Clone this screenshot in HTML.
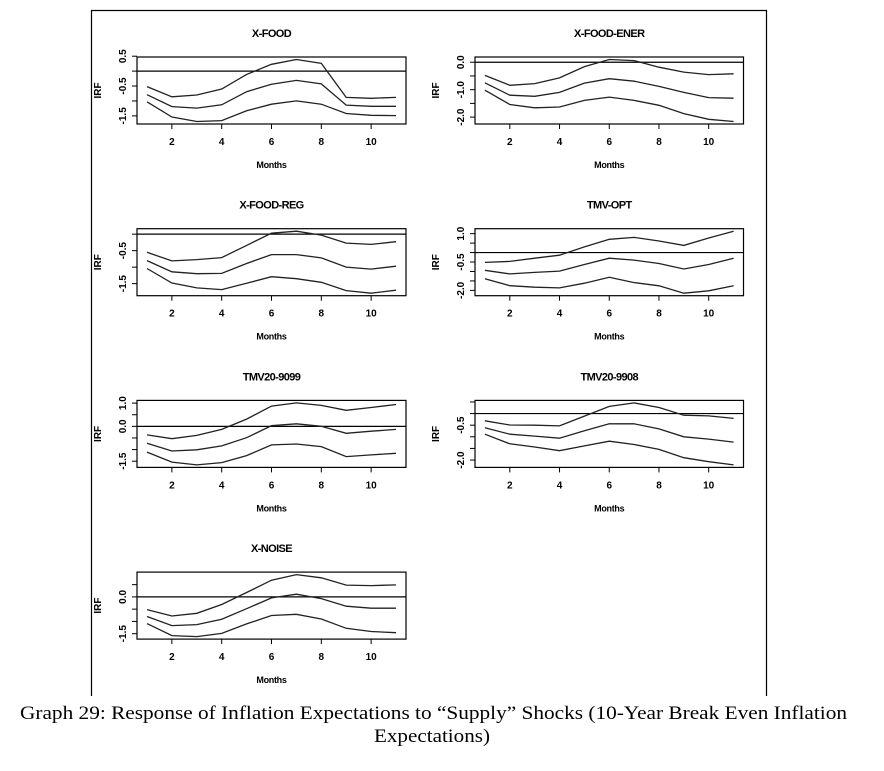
<!DOCTYPE html>
<html><head><meta charset="utf-8"><style>
html,body{margin:0;padding:0;background:#fff;}
svg{display:block;}
.t{font-family:"Liberation Sans",Arial,sans-serif;font-weight:bold;fill:#000;}
.c{font-family:"Liberation Serif",serif;fill:#000;}
</style></head><body>
<svg id="fig" width="884" height="771" viewBox="0 0 884 771" xmlns="http://www.w3.org/2000/svg">
<path d="M91.5 696 V10.5 H766.5 V696" fill="none" stroke="#000" stroke-width="1.2"/>
<text class="c" x="20" y="719" font-size="19" textLength="827" lengthAdjust="spacingAndGlyphs">Graph 29: Response of Inflation Expectations to “Supply” Shocks (10-Year Break Even Inflation</text>
<text class="c" x="374" y="742" font-size="19" textLength="116" lengthAdjust="spacingAndGlyphs">Expectations)</text>
</svg>
<script>
const months = [1,2,3,4,5,6,7,8,9,10,11];
const xTicks = [2,4,6,8,10];
const titles = ["X-FOOD","X-FOOD-ENER","X-FOOD-REG","TMV-OPT","TMV20-9099","TMV20-9908","X-NOISE"];
const upperFood = [-0.52,-0.86,-0.8,-0.6,-0.11,0.23,0.39,0.26,-0.88,-0.91,-0.88];
const midFood = [-0.79,-1.19,-1.24,-1.13,-0.69,-0.44,-0.31,-0.43,-1.14,-1.18,-1.18];
const lowerFood = [-1.03,-1.54,-1.69,-1.66,-1.33,-1.11,-1.0,-1.11,-1.42,-1.48,-1.49];
const upperEner = [-0.48,-0.84,-0.78,-0.57,-0.16,0.1,0.06,-0.18,-0.36,-0.45,-0.42];
const midEner = [-0.75,-1.2,-1.24,-1.1,-0.76,-0.6,-0.69,-0.88,-1.1,-1.29,-1.31];
const lowerEner = [-1.02,-1.54,-1.66,-1.63,-1.39,-1.27,-1.39,-1.57,-1.87,-2.08,-2.16];
const upperReg = [-0.55,-0.81,-0.77,-0.71,-0.34,0.03,0.09,-0.03,-0.27,-0.31,-0.23];
const midReg = [-0.8,-1.14,-1.2,-1.19,-0.89,-0.62,-0.62,-0.72,-1.0,-1.06,-0.97];
const lowerReg = [-1.04,-1.48,-1.63,-1.68,-1.49,-1.29,-1.35,-1.46,-1.71,-1.79,-1.7];
const upperOpt = [-0.52,-0.47,-0.3,-0.14,0.3,0.7,0.8,0.61,0.38,0.77,1.13];
const midOpt = [-0.94,-1.13,-1.05,-0.98,-0.63,-0.3,-0.4,-0.58,-0.87,-0.63,-0.3];
const lowerOpt = [-1.38,-1.75,-1.83,-1.87,-1.62,-1.31,-1.59,-1.76,-2.15,-2.02,-1.75];
const upper9099 = [-0.37,-0.53,-0.39,-0.13,0.31,0.87,1.01,0.9,0.69,0.81,0.94];
const mid9099 = [-0.73,-1.06,-1.01,-0.84,-0.49,0.03,0.11,0.0,-0.3,-0.21,-0.13];
const lower9099 = [-1.11,-1.54,-1.66,-1.56,-1.26,-0.8,-0.76,-0.87,-1.3,-1.23,-1.16];
const upper9908 = [-0.31,-0.49,-0.5,-0.53,-0.11,0.31,0.46,0.26,-0.07,-0.1,-0.21];
const mid9908 = [-0.61,-0.89,-0.97,-1.06,-0.74,-0.44,-0.44,-0.66,-1.0,-1.1,-1.23];
const lower9908 = [-0.89,-1.3,-1.44,-1.6,-1.39,-1.19,-1.33,-1.54,-1.9,-2.07,-2.21];
const upperNoise = [-0.52,-0.78,-0.67,-0.31,0.18,0.68,0.91,0.78,0.48,0.46,0.49];
const midNoise = [-0.8,-1.17,-1.13,-0.91,-0.48,-0.04,0.11,-0.07,-0.38,-0.46,-0.46];
const lowerNoise = [-1.09,-1.58,-1.62,-1.49,-1.1,-0.76,-0.71,-0.9,-1.28,-1.41,-1.46];
const yTicks = [[0.5,0,-0.5,-1,-1.5],[0,-0.5,-1,-1.5,-2],[0,-0.5,-1,-1.5],[1,0.5,0,-0.5,-1,-1.5,-2],[1,0.5,0,-0.5,-1,-1.5],[0.5,0,-0.5,-1,-1.5,-2],[0.5,0,-0.5,-1,-1.5]];
const yLabels = [["0.5","","-0.5","","-1.5"],["0.0","","-1.0","","-2.0"],["","-0.5","","-1.5"],["1.0","","","-0.5","","","-2.0"],["1.0","","0.0","","","-1.5"],["","","-0.5","","","-2.0"],["","0.0","","","-1.5"]];
const seriesSets = [[upperFood,midFood,lowerFood],[upperEner,midEner,lowerEner],[upperReg,midReg,lowerReg],[upperOpt,midOpt,lowerOpt],[upper9099,mid9099,lower9099],[upper9908,mid9908,lower9908],[upperNoise,midNoise,lowerNoise]];

const NS = "http://www.w3.org/2000/svg";
const svg = document.getElementById('fig');
function mk(tag, attrs, parent){const e=document.createElementNS(NS,tag);for(const k in attrs)e.setAttribute(k,attrs[k]);(parent||svg).appendChild(e);return e;}

titles.forEach((title, i) => {
  const col = i % 2, row = Math.floor(i / 2);
  const bx0 = col ? 475 : 137, bx1 = col ? 743.5 : 406;
  const by0 = 57 + row * 171.7, by1 = by0 + 67;
  const g = mk('g', {});
  
  
  const sets = seriesSets[i];
  let mn = Infinity, mx = -Infinity;
  sets.forEach(s => s.forEach(v => { mn = Math.min(mn, v); mx = Math.max(mx, v); }));
  mn = Math.min(mn, 0); mx = Math.max(mx, 0);
  const ext = (mx - mn) * 0.04, ylo = mn - ext, yhi = mx + ext;
  const xs = v => bx0 + (v - 0.6) / 10.8 * (bx1 - bx0);
  const ys = v => by1 - (v - ylo) / (yhi - ylo) * (by1 - by0);
  const box = mk('rect', {x: bx0, y: by0, width: bx1 - bx0, height: by1 - by0, fill: 'none', stroke: '#000', 'stroke-width': 1.2}, g);
  
  
  const zl = mk('line', {x1: bx0, x2: bx1, y1: ys(0), y2: ys(0), stroke: '#000', 'stroke-width': 1.2}, g);
  
  
  const cx = (bx0 + bx1) / 2;
  const tt = mk('text', {x: cx, y: by0 - 20, 'font-size': 11, 'text-anchor': 'middle', class: 't', 'letter-spacing': '-0.6'}, g);
  tt.textContent = title;
  
  
  const xl = mk('text', {x: cx, y: by1 + 44, 'font-size': 9, 'text-anchor': 'middle', class: 't', 'letter-spacing': '-0.3'}, g);
  xl.textContent = 'Months';
  
  
  const ylx = bx0 - 36;
  const yl = mk('text', {x: 0, y: 0, 'font-size': 10, 'text-anchor': 'middle', class: 't', transform: `translate(${ylx},${(by0+by1)/2}) rotate(-90)`}, g);
  yl.textContent = 'IRF';
  
  
  xTicks.forEach(t => {
    const x = xs(t);
    const tk = mk('line', {x1: x, x2: x, y1: by1, y2: by1 + 5, stroke: '#000', 'stroke-width': 1}, g);
    
    
    const lb = mk('text', {x: x, y: by1 + 21, 'font-size': 10, 'text-anchor': 'middle', class: 't'}, g);
    lb.textContent = t;
    
    
  });
  yTicks[i].forEach((t, j) => {
    const y = ys(t);
    const tk = mk('line', {x1: bx0 - 5, x2: bx0, y1: y, y2: y, stroke: '#000', 'stroke-width': 1}, g);
    
    
    if (yLabels[i][j]) {
      const lb = mk('text', {x: 0, y: 0, 'font-size': 10, 'text-anchor': 'middle', class: 't', transform: `translate(${bx0 - 11},${y}) rotate(-90)`}, g);
      lb.textContent = yLabels[i][j];
      
      
    }
  });
  const names = ['upper-band', 'irf-line', 'lower-band'];
  sets.forEach((s, k) => {
    const d = s.map((v, m) => (m ? 'L' : 'M') + xs(months[m]).toFixed(1) + ' ' + ys(v).toFixed(1)).join(' ');
    const p = mk('path', {d: d, fill: 'none', stroke: '#222', 'stroke-width': 1.3}, g);
    
    
  });
});
</script>
</body></html>
